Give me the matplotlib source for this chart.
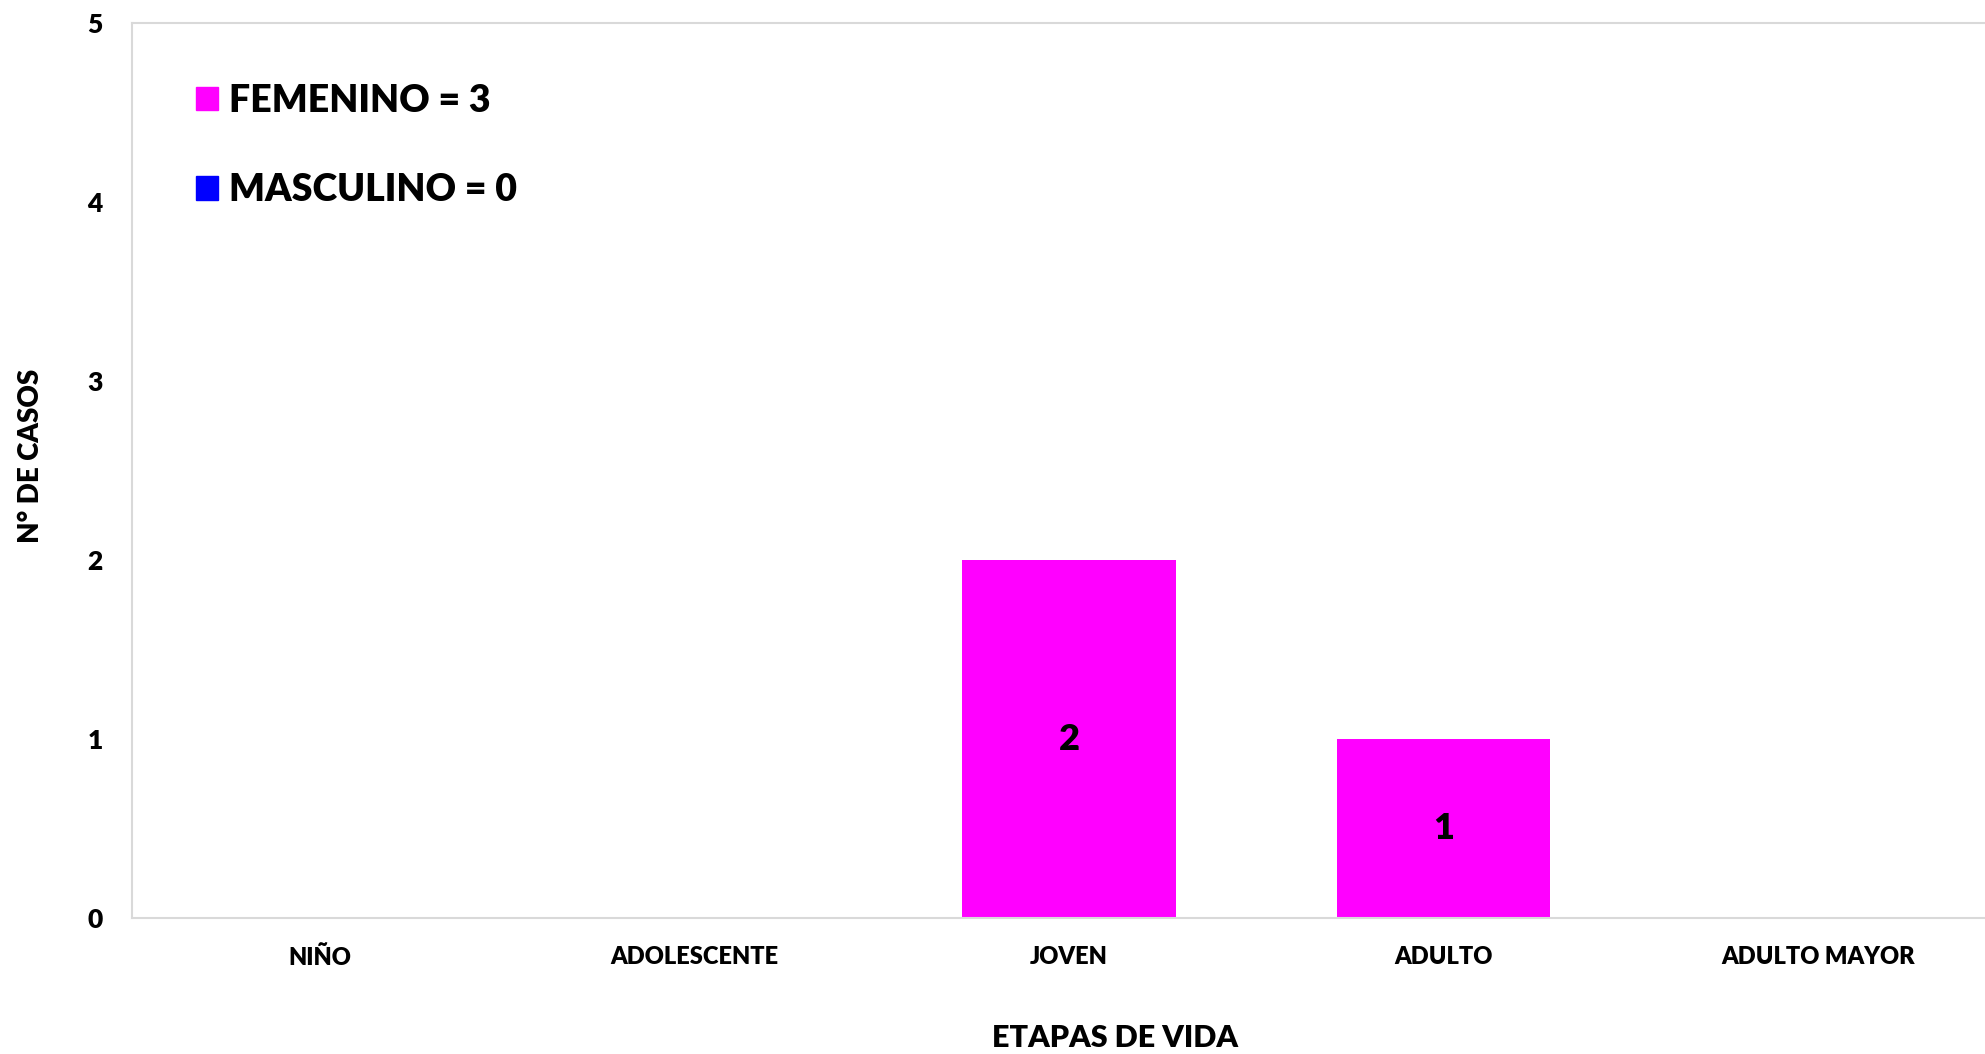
import matplotlib.pyplot as plt
from matplotlib.patches import Patch
import numpy as np

# data
etapas = ["NIÑO", "ADOLESCENTE", "JOVEN", "ADULTO", "ADULTO MAYOR"]
femenino = [0, 0, 2, 1, 0]
masculino = [0, 0, 0, 0, 0]
legend_labels = ["FEMENINO = 3", "MASCULINO = 0"]
y_ticks = [0, 1, 2, 3, 4, 5]

col_fem = "#FF00FF"
col_mas = "#0000FF"
grid_col = "#D9D9D9"

plt.rcParams["font.family"] = ["Lato", "DejaVu Sans"]
plt.rcParams["font.weight"] = "heavy"

fig = plt.figure(figsize=(19.85, 10.54), dpi=100)
# plot area runs a little past the right edge, as in the reference
ax = fig.add_axes([0.0665, 0.129, 0.944, 0.849])

x = np.arange(len(etapas))
width = 0.57
bars_f = ax.bar(x, femenino, width, color=col_fem)
bars_m = ax.bar(x, masculino, width, bottom=femenino, color=col_mas)

for b, v in zip(bars_f, femenino):
    if v > 0:
        ax.text(b.get_x() + b.get_width() / 2, v / 2, str(v),
                ha="center", va="center", fontsize=26, fontweight="heavy")

ax.set_xlim(-0.5, len(etapas) - 0.5)
ax.set_ylim(0, 5)
ax.set_yticks(y_ticks)
ax.set_xticks(x)
ax.set_xticklabels(etapas)
ax.tick_params(axis="x", length=0, labelsize=17, pad=20)
ax.tick_params(axis="y", length=0, labelsize=19, pad=21)

for side in ["left", "bottom", "top"]:
    ax.spines[side].set_color(grid_col)
    ax.spines[side].set_linewidth(1.5)
ax.spines["right"].set_visible(False)

ax.set_xlabel("ETAPAS DE VIDA", fontsize=22, fontweight="heavy")
ax.set_ylabel("N° DE CASOS", fontsize=20, fontweight="heavy")
ax.xaxis.set_label_coords(0.5246, -0.118)
ax.yaxis.set_label_coords(-0.047, 0.516)

handles = [Patch(color=col_fem), Patch(color=col_mas)]
ax.legend(handles, legend_labels, loc="upper left",
          bbox_to_anchor=(196 / 1985, 1 - 84 / 1054), bbox_transform=fig.transFigure,
          frameon=False, handlelength=0.58, handleheight=0.58,
          handletextpad=0.3, labelspacing=1.47, borderpad=0, borderaxespad=0,
          prop={"weight": "heavy", "size": 27})

fig.savefig("out.png", dpi=100)
